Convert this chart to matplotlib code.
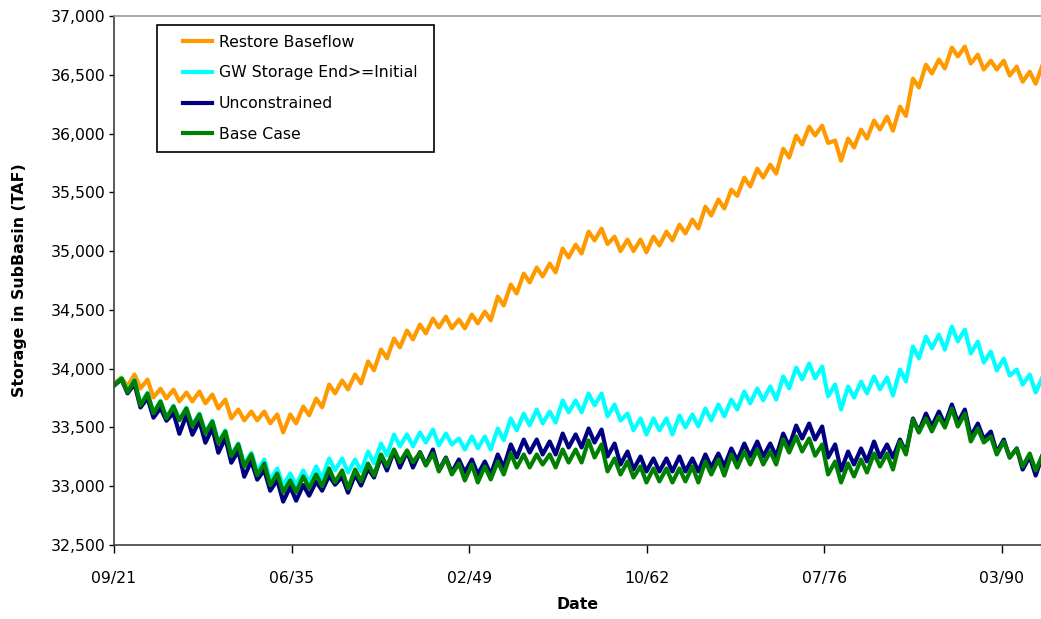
import datetime as dt
import matplotlib
matplotlib.use("Agg")
import matplotlib.pyplot as plt
from matplotlib.ticker import FuncFormatter
from matplotlib.legend_handler import HandlerLine2D
import numpy as np

# ---------------- data (TAF) ----------------
series_names = ["Restore Baseflow", "GW Storage End>=Initial", "Unconstrained", "Base Case"]
series_colors = ["#FF9900", "#00FFFF", "#000080", "#008000"]

# fall lows: Oct 1921 .. Oct 1992 ; spring highs: spring 1922 .. spring 1993
fall_years = list(range(1921, 1993))
spring_years = list(range(1922, 1994))

restore_fall = [
    33880, 33849, 33832, 33755, 33747, 33722, 33722, 33705, 33662, 33577,
    33560, 33560, 33535, 33457, 33535, 33603, 33671, 33790, 33824, 33875,
    33986, 34088, 34181, 34249, 34300, 34351, 34343, 34343, 34385, 34411,
    34538, 34640, 34734, 34785, 34819, 34946, 34980, 35091, 35060, 35000,
    35000, 34990, 35048, 35091, 35150, 35193, 35303, 35363, 35470, 35550,
    35626, 35660, 35796, 35907, 35984, 35920, 35769, 35882, 35958, 36035,
    36024, 36150, 36392, 36511, 36554, 36656, 36596, 36545, 36545, 36494,
    36441, 36424]
restore_spring = [
    33924, 33950, 33907, 33830, 33822, 33797, 33805, 33780, 33737, 33652,
    33635, 33635, 33610, 33610, 33678, 33746, 33865, 33899, 33950, 34061,
    34163, 34256, 34324, 34375, 34426, 34443, 34418, 34460, 34486, 34613,
    34715, 34809, 34860, 34894, 35021, 35055, 35166, 35191, 35123, 35098,
    35098, 35123, 35166, 35225, 35268, 35378, 35438, 35523, 35625, 35701,
    35735, 35871, 35982, 36059, 36067, 35940, 35957, 36033, 36110, 36144,
    36229, 36467, 36586, 36629, 36731, 36739, 36671, 36620, 36620, 36569,
    36526, 36586]

gw_fall = [
    33860, 33805, 33695, 33625, 33585, 33568, 33518, 33458, 33375, 33265,
    33185, 33127, 33051, 33008, 33008, 33034, 33068, 33136, 33117, 33127,
    33195, 33263, 33340, 33340, 33372, 33348, 33355, 33312, 33323, 33312,
    33391, 33476, 33518, 33535, 33542, 33629, 33629, 33688, 33595, 33559,
    33476, 33440, 33476, 33440, 33501, 33510, 33561, 33595, 33652, 33705,
    33731, 33737, 33833, 33909, 33918, 33765, 33652, 33754, 33790, 33824,
    33771, 33892, 34088, 34173, 34162, 34232, 34130, 34052, 33985, 33941,
    33865, 33797]
gw_spring = [
    33920, 33905, 33795, 33725, 33685, 33668, 33618, 33558, 33475, 33365,
    33285, 33227, 33151, 33108, 33134, 33168, 33236, 33236, 33227, 33295,
    33363, 33440, 33440, 33457, 33482, 33448, 33406, 33423, 33423, 33491,
    33576, 33618, 33652, 33635, 33729, 33729, 33788, 33788, 33695, 33618,
    33576, 33576, 33576, 33601, 33610, 33661, 33695, 33737, 33805, 33831,
    33848, 33933, 34009, 34043, 34018, 33865, 33848, 33890, 33933, 33924,
    33992, 34188, 34273, 34289, 34357, 34332, 34230, 34145, 34085, 33992,
    33950, 33933]

unc_fall = [
    33860, 33790, 33670, 33583, 33557, 33446, 33438, 33370, 33285, 33200,
    33081, 33056, 32962, 32869, 32877, 32920, 32962, 33013, 32945, 33006,
    33074, 33134, 33159, 33159, 33180, 33134, 33117, 33117, 33100, 33100,
    33160, 33245, 33287, 33270, 33270, 33330, 33330, 33372, 33253, 33185,
    33143, 33126, 33126, 33126, 33126, 33126, 33160, 33168, 33218, 33253,
    33253, 33253, 33338, 33406, 33398, 33245, 33134, 33185, 33211, 33245,
    33245, 33287, 33466, 33508, 33525, 33542, 33423, 33400, 33287, 33244,
    33142, 33091]
unc_spring = [
    33910, 33870, 33750, 33665, 33623, 33606, 33555, 33495, 33410, 33300,
    33215, 33138, 33053, 32994, 33010, 33040, 33090, 33080, 33100, 33150,
    33250, 33300, 33295, 33290, 33312, 33244, 33227, 33227, 33210, 33270,
    33355, 33397, 33397, 33380, 33448, 33440, 33491, 33482, 33363, 33295,
    33253, 33236, 33236, 33253, 33236, 33270, 33278, 33321, 33363, 33380,
    33363, 33448, 33516, 33533, 33508, 33355, 33295, 33321, 33380, 33355,
    33397, 33576, 33618, 33635, 33695, 33652, 33533, 33465, 33397, 33321,
    33253, 33270]

base_fall = [
    33860, 33799, 33688, 33620, 33578, 33561, 33510, 33450, 33365, 33255,
    33170, 33093, 33008, 32949, 32949, 32983, 33000, 33034, 32980, 33042,
    33093, 33170, 33204, 33204, 33176, 33126, 33100, 33049, 33032, 33058,
    33100, 33159, 33160, 33185, 33160, 33202, 33202, 33245, 33126, 33100,
    33074, 33032, 33041, 33032, 33041, 33032, 33100, 33091, 33159, 33185,
    33185, 33185, 33287, 33296, 33260, 33100, 33032, 33083, 33117, 33168,
    33142, 33270, 33457, 33466, 33499, 33508, 33381, 33372, 33270, 33244,
    33168, 33134]
base_spring = [
    33916, 33899, 33788, 33720, 33678, 33661, 33610, 33550, 33465, 33355,
    33270, 33193, 33108, 33049, 33083, 33100, 33151, 33134, 33142, 33193,
    33270, 33312, 33304, 33285, 33278, 33236, 33193, 33185, 33168, 33210,
    33278, 33270, 33270, 33270, 33312, 33312, 33389, 33355, 33236, 33210,
    33168, 33151, 33151, 33151, 33168, 33210, 33227, 33270, 33295, 33312,
    33295, 33397, 33423, 33406, 33355, 33210, 33193, 33227, 33278, 33278,
    33380, 33567, 33576, 33593, 33661, 33618, 33491, 33423, 33380, 33321,
    33278, 33270]

y_ticks = list(range(32500, 37001, 500))
x_tick_labels = ["09/21", "06/35", "02/49", "10/62", "07/76", "03/90"]

# ---------------- build time axis ----------------
fall_dates = [dt.datetime(y, 10, 15) for y in fall_years]
spring_dates = [dt.datetime(y, 5, 1) for y in spring_years]


def interleave(fall_vals, spring_vals):
    d, v = [], []
    for fd, fv, sd, sv in zip(fall_dates, fall_vals, spring_dates, spring_vals):
        d += [fd, sd]
        v += [fv, sv]
    return d, v


all_series = [(restore_fall, restore_spring), (gw_fall, gw_spring),
              (unc_fall, unc_spring), (base_fall, base_spring)]

plt.rcParams["font.family"] = ["DejaVu Sans"]
plt.rcParams["font.size"] = 11.3

W, H = 1041, 619
fig = plt.figure(figsize=(W / 100, H / 100), dpi=100)
ax_l, ax_r, ax_t, ax_b = 114, 1041, 16, 545
ax = fig.add_axes([ax_l / W, 1 - ax_b / H, (ax_r - ax_l) / W, (ax_b - ax_t) / H])

lines = []
for (fv, sv), name, col in zip(all_series, series_names, series_colors):
    d, v = interleave(fv, sv)
    ln, = ax.plot(d, v, color=col, lw=3.0, label=name, solid_joinstyle="round")
    lines.append(ln)

start = dt.datetime(1921, 9, 30)
tick_dates = [start + dt.timedelta(days=5000 * k) for k in range(len(x_tick_labels))]
ax.set_xlim(start, start + dt.timedelta(days=26098))
ax.set_xticks(tick_dates)
ax.set_xticklabels(x_tick_labels)

ax.set_ylim(32500, 37000)
ax.set_yticks(y_ticks)
ax.yaxis.set_major_formatter(FuncFormatter(lambda v, p: f"{int(v):,}"))

ax.tick_params(axis="y", direction="out", length=3.6, width=1, pad=2.5, colors="black")
ax.tick_params(axis="x", direction="out", length=5.8, width=1, pad=13, colors="black")

for s in ["left", "bottom"]:
    ax.spines[s].set_color("#404040")
    ax.spines[s].set_linewidth(1.2)
ax.spines["top"].set_color("#9a9a9a")
ax.spines["top"].set_linewidth(1.2)
ax.spines["right"].set_visible(False)

ax.set_ylabel("Storage in SubBasin (TAF)", fontweight="bold", fontsize=11.3)
ax.yaxis.set_label_coords(-0.094, 0.5)
ax.set_xlabel("Date", fontweight="bold", fontsize=11.3)
ax.xaxis.set_label_coords(0.5, -0.098)


class RightHandler(HandlerLine2D):
    def get_xdata(self, legend, xdescent, ydescent, width, height, fontsize):
        xd = np.array([-xdescent + width * 0.36, -xdescent + width])
        return xd, xd


axw = ax_r - ax_l
axh = ax_b - ax_t
lx0 = (157 - ax_l) / axw
lw_ = (434 - 157) / axw
ltop = 1 - (25 - ax_t) / axh
leg = ax.legend(handles=lines, loc="upper left",
                bbox_to_anchor=(lx0, ltop - 0.4, lw_, 0.4), mode="expand",
                borderaxespad=0, frameon=True, fancybox=False, shadow=False,
                fontsize=11.3, handlelength=2.9, handletextpad=0.4,
                labelspacing=1.0, borderpad=0.62,
                handler_map={matplotlib.lines.Line2D: RightHandler()})
fr = leg.get_frame()
fr.set_edgecolor("black")
fr.set_linewidth(1.2)
fr.set_alpha(1)

fig.savefig("out.png", dpi=100)
